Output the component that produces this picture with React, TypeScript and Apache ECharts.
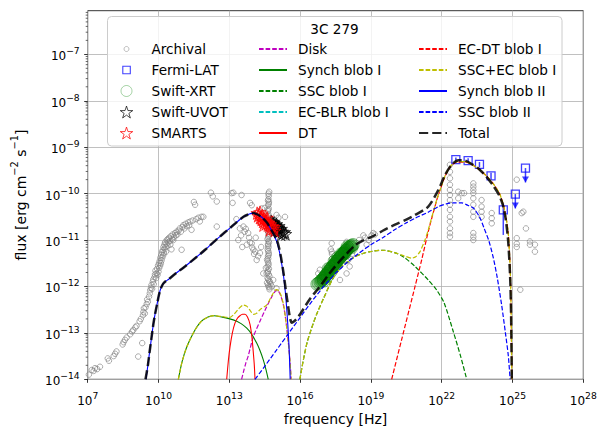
import React, { useEffect, useRef } from "react";
import * as echarts from "echarts";

// ---------- axes (log10 units) ----------
const X_MIN = 7;
const X_MAX = 28;
const Y_MIN = -14;
const Y_MAX = -6.06;
const xTickValues = [7, 10, 13, 16, 19, 22, 25, 28];
const yTickValues = [-14, -13, -12, -11, -10, -9, -8, -7];
const minorTickFractions = [0.301, 0.477, 0.602, 0.699, 0.778, 0.845, 0.903, 0.954];

// ---------- data points [log10 nu (Hz), log10 nuFnu (erg cm^-2 s^-1)] ----------
const archivalPoints = [
  [7.05, -13.9], [7.17, -13.8], [7.25, -13.82], [7.31, -13.76], [7.4, -13.78], [7.52, -13.73], [7.85, -13.55], [7.9, -13.6],
  [8.1, -13.5], [8.16, -13.45], [8.22, -13.4], [8.48, -13.25], [8.52, -13.2], [8.58, -13.15], [8.65, -13.1], [8.8, -13.03],
  [8.88, -12.97], [8.93, -12.94], [9.02, -12.88], [9.07, -12.85], [9.14, -13.51], [9.2, -12.75], [9.25, -12.7], [9.31, -13.22],
  [9.34, -12.62], [9.36, -12.55], [9.38, -12.47], [9.42, -12.58], [9.45, -12.45], [9.5, -12.38], [9.52, -12.28], [9.55, -12.33],
  [9.6, -12.22], [9.63, -12.15], [9.65, -12.08], [9.68, -12.03], [9.7, -11.97], [9.73, -12.05], [9.76, -11.9], [9.78, -11.85],
  [9.8, -11.95], [9.83, -11.8], [9.85, -11.74], [9.87, -11.66],
  [9.9, -11.82], [9.92, -11.72], [9.94, -11.62], [9.96, -11.75], [9.98, -11.55], [10.0, -11.68], [10.02, -11.5], [10.03, -11.6],
  [10.05, -11.45], [10.07, -11.55], [10.08, -11.38], [10.1, -11.5], [10.12, -11.32], [10.13, -11.44], [10.15, -11.26], [10.16, -11.38],
  [10.18, -11.22], [10.2, -11.33], [10.21, -11.15], [10.23, -11.28], [10.25, -11.1], [10.26, -11.2], [10.28, -11.05], [10.3, -11.15],
  [10.32, -11.25], [10.34, -11.08], [10.35, -11.0], [10.38, -11.12], [10.4, -10.98], [10.42, -11.05], [10.45, -10.95], [10.48, -11.02],
  [10.5, -11.1], [10.52, -10.92], [10.55, -11.2], [10.58, -10.98], [10.6, -10.88], [10.63, -11.0], [10.66, -10.93], [10.7, -10.85],
  [10.74, -10.9], [10.77, -10.82], [10.8, -10.88],
  [10.85, -10.8], [10.9, -10.75], [10.95, -10.82], [10.98, -11.21], [11.02, -10.72], [11.05, -10.68], [11.1, -10.75], [11.15, -10.65],
  [11.2, -10.7], [11.26, -10.62], [11.3, -10.68], [11.35, -10.6], [11.4, -10.78], [11.45, -10.58], [11.5, -10.18], [11.55, -10.24],
  [11.6, -10.55], [11.69, -10.52], [11.75, -10.6], [11.82, -10.5], [11.9, -10.5], [12.22, -9.98], [12.3, -10.06], [12.47, -10.17],
  [12.47, -10.71],
  [13.1, -9.99], [13.17, -9.98], [13.14, -10.2], [13.52, -10.03], [13.88, -10.2], [13.95, -10.25], [14.23, -10.39], [14.38, -10.32],
  [14.5, -10.31], [15.0, -10.46], [15.08, -10.52], [15.36, -10.5], [14.92, -10.58],
  [13.38, -11.0], [13.45, -10.75], [13.5, -10.9], [13.6, -10.71], [13.65, -10.82], [13.7, -10.76], [13.74, -11.1], [13.8, -10.85],
  [13.84, -10.95], [13.88, -11.05], [13.95, -11.07], [13.97, -11.16], [14.02, -11.21], [14.05, -11.3], [14.1, -11.25], [14.16, -11.43],
  [14.22, -11.35], [14.3, -11.28], [14.35, -11.15], [13.55, -11.15], [13.3, -10.55], [14.12, -10.95],
  [14.69, -9.96], [14.67, -10.05], [14.66, -10.12], [14.68, -10.18], [14.65, -10.25], [14.67, -10.32], [14.64, -10.38], [14.66, -10.45],
  [14.68, -10.52], [14.65, -10.6], [14.63, -10.68], [14.67, -10.75], [14.64, -10.82], [14.66, -10.9], [14.62, -10.98], [14.68, -11.05],
  [14.65, -11.12], [14.63, -11.2], [14.67, -11.28], [14.64, -11.35], [14.6, -11.42], [14.66, -11.5], [14.62, -11.58], [14.68, -11.62],
  [14.63, -11.7], [14.58, -11.72], [14.7, -11.78], [14.65, -11.85], [14.72, -11.9], [14.6, -11.92], [14.75, -11.95], [14.66, -12.0],
  [14.8, -12.0], [14.86, -11.86], [15.0, -12.04], [14.7, -12.06], [14.44, -11.72], [14.55, -11.6],
  [14.66, -10.0], [14.64, -10.15], [14.67, -10.22], [14.65, -10.35], [14.66, -10.48], [14.64, -10.56], [14.66, -10.64], [14.65, -10.72],
  [14.67, -10.86], [14.65, -10.94], [14.66, -11.02], [14.64, -11.09], [14.66, -11.16], [14.65, -11.24], [14.67, -11.32], [14.65, -11.4],
  [14.63, -11.46], [14.66, -11.54], [14.64, -11.66], [14.67, -11.74], [14.62, -11.82], [14.69, -11.88], [14.64, -11.96], [14.7, -12.02],
  [16.77, -11.72], [16.84, -11.64], [16.95, -11.8], [17.13, -11.57], [17.3, -11.2], [17.34, -11.07], [17.35, -11.3], [17.36, -11.4],
  [17.37, -11.5], [17.38, -11.6], [17.34, -11.25], [17.69, -11.86], [17.97, -11.04], [17.97, -11.15], [17.97, -11.25], [17.97, -11.35],
  [17.97, -11.45], [17.97, -11.72], [18.04, -11.43], [18.1, -11.57], [18.2, -11.3], [18.68, -10.9], [18.75, -10.95], [18.82, -11.1],
  [18.9, -11.0], [19.03, -10.9], [19.1, -10.85], [19.17, -10.88], [18.5, -11.0],
  [22.35, -9.38], [22.35, -9.53], [22.35, -9.67], [22.35, -9.81], [22.35, -9.92], [22.35, -10.03], [22.35, -10.14], [22.35, -10.24],
  [22.35, -10.35], [22.35, -10.5], [22.35, -10.6], [22.35, -10.75], [22.35, -10.85], [22.35, -10.93],
  [22.7, -9.96], [22.7, -10.1], [22.85, -9.99], [22.95, -9.99],
  [23.34, -9.78], [23.34, -9.85], [23.34, -9.92], [23.34, -9.99], [23.34, -10.1], [23.34, -10.24], [23.34, -10.39], [23.34, -10.5],
  [23.34, -10.85], [23.34, -10.93], [23.34, -11.0],
  [23.69, -10.14], [23.69, -10.28], [23.69, -10.39], [23.69, -10.5],
  [24.12, -10.42], [24.12, -10.53], [24.12, -10.64],
  [25.18, -9.7], [25.39, -10.42], [25.46, -10.39], [25.57, -10.75], [25.18, -10.96], [25.18, -11.08], [25.18, -11.15],
  [25.74, -11.03], [25.74, -11.1], [25.95, -11.1], [25.95, -11.25], [25.33, -12.07],
];

const fermiPoints = [[22.6, -9.27], [23.12, -9.29], [23.6, -9.37], [24.09, -9.62], [24.61, -10.35]];
const fermiErrLow = [-9.32, -9.34, -9.43, -9.7, -10.89];
const fermiErrHigh = [-9.22, -9.24, -9.32, -9.55, -10.2];
const fermiUpperLimits = [[25.12, -10.01], [25.55, -9.45]];
const fermiUpperLimitArrowEnds = [-10.32, -9.76];

const xrtPoints = [
  [16.72, -11.95], [16.78, -11.93], [16.85, -11.9], [16.9, -11.88], [16.93, -11.86], [16.97, -11.84], [17.0, -11.82], [17.04, -11.8],
  [17.07, -11.77], [17.1, -11.76], [17.13, -11.73], [17.17, -11.72], [17.2, -11.68], [17.24, -11.67], [17.27, -11.64], [17.3, -11.62],
  [17.34, -11.6], [17.37, -11.57], [17.4, -11.56], [17.44, -11.53], [17.47, -11.51], [17.5, -11.5], [17.54, -11.47], [17.57, -11.45],
  [17.6, -11.43], [17.64, -11.41], [17.67, -11.39], [17.7, -11.37], [17.74, -11.35], [17.77, -11.33], [17.8, -11.31], [17.84, -11.29],
  [17.87, -11.27], [17.9, -11.25], [17.94, -11.23], [17.97, -11.21], [18.0, -11.19], [18.05, -11.17], [18.1, -11.15], [18.15, -11.13],
  [18.2, -11.12], [18.24, -11.1], [17.0, -11.88], [17.2, -11.62], [17.5, -11.54], [17.6, -11.38], [17.9, -11.29], [18.0, -11.15],
  [17.3, -11.68], [17.45, -11.46], [17.15, -11.78], [17.75, -11.3], [18.18, -11.16],
];

const uvotPoints = [
  [14.78, -10.6], [14.83, -10.62], [14.86, -10.65], [14.9, -10.63], [14.93, -10.68], [14.97, -10.7], [15.0, -10.66], [15.03, -10.72],
  [15.06, -10.74], [15.1, -10.7], [15.13, -10.77], [15.16, -10.8], [15.2, -10.76], [15.24, -10.82], [15.28, -10.85], [15.33, -10.83],
  [15.38, -10.87], [14.95, -10.78], [15.08, -10.82], [15.2, -10.88],
];

const smartsPoints = [
  [14.18, -10.42], [14.22, -10.48], [14.26, -10.45], [14.3, -10.52], [14.34, -10.5], [14.37, -10.56], [14.4, -10.47], [14.43, -10.6],
  [14.46, -10.55], [14.5, -10.62], [14.53, -10.58], [14.56, -10.65], [14.6, -10.6], [14.63, -10.68], [14.66, -10.63], [14.7, -10.7],
  [14.74, -10.66], [14.78, -10.73], [14.82, -10.7], [14.86, -10.76], [14.9, -10.72], [14.3, -10.4], [14.45, -10.68], [14.6, -10.52],
  [14.72, -10.78], [14.92, -10.8],
];

// ---------- model curves ----------
const diskCurve = [
  [13.52, -14], [13.62, -13.8], [13.7, -13.65], [13.8, -13.5], [14.02, -13.08], [14.3, -12.75], [14.58, -12.44], [14.8, -12.22],
  [14.92, -12.12], [15.0, -12.08], [15.08, -12.1], [15.18, -12.2], [15.3, -12.42], [15.4, -12.75], [15.5, -13.2], [15.57, -13.6], [15.62, -14],
];
const synchICurve = [
  [10.84, -14], [11.0, -13.62], [11.2, -13.3], [11.5, -12.98], [11.8, -12.76], [12.1, -12.66], [12.35, -12.63], [12.7, -12.66],
  [13.17, -12.72], [13.5, -12.8], [13.74, -12.9], [13.95, -13.03], [14.16, -13.22], [14.3, -13.38], [14.44, -13.58], [14.56, -13.8], [14.65, -14],
];
const sscICurve = [
  [15.99, -14], [16.15, -13.55], [16.3, -13.2], [16.5, -12.88], [16.7, -12.6], [17.0, -12.25], [17.4, -11.82], [17.8, -11.56],
  [18.26, -11.38], [18.6, -11.3], [18.96, -11.25], [19.5, -11.22], [20.0, -11.27], [20.4, -11.37], [20.87, -11.57], [21.43, -11.86],
  [21.79, -12.08], [22.1, -12.35], [22.49, -12.97], [22.8, -13.5], [23.06, -14],
];
const ecBlrICurve: number[][] = [];
const dtCurve = [
  [12.89, -14], [12.96, -13.6], [13.03, -13.3], [13.13, -13.0], [13.24, -12.79], [13.35, -12.68], [13.45, -12.63], [13.56, -12.6],
  [13.66, -12.6], [13.77, -12.66], [13.88, -12.82], [13.96, -13.1], [14.02, -13.44], [14.06, -13.7], [14.09, -14],
];
const ecDtICurve = [
  [19.88, -14], [20.3, -13.15], [20.87, -12.0], [21.15, -11.43], [21.43, -10.82], [21.79, -10.14], [22.0, -9.82], [22.14, -9.63],
  [22.35, -9.43], [22.64, -9.32], [23.0, -9.32], [23.3, -9.38], [23.63, -9.5], [23.9, -9.62], [24.19, -9.79], [24.45, -10.0],
  [24.6, -10.22], [24.72, -10.5], [24.82, -10.85], [24.9, -11.6], [24.94, -12.5], [24.97, -14],
];
const sscEcILowCurve = [
  [10.84, -14], [11.0, -13.62], [11.2, -13.3], [11.5, -12.98], [11.8, -12.76], [12.1, -12.66], [12.35, -12.63], [12.7, -12.65],
  [13.0, -12.67], [13.2, -12.6], [13.4, -12.48], [13.6, -12.4], [13.75, -12.43], [13.9, -12.53], [14.02, -12.6], [14.15, -12.58],
  [14.3, -12.5], [14.58, -12.4], [14.8, -12.2], [14.92, -12.1], [15.0, -12.07], [15.1, -12.1], [15.2, -12.2], [15.3, -12.4],
  [15.4, -12.75], [15.5, -13.2], [15.57, -13.6], [15.62, -14],
];
const sscEcIHighCurve = [
  [15.99, -14], [16.15, -13.55], [16.3, -13.2], [16.5, -12.88], [16.7, -12.6], [17.0, -12.25], [17.4, -11.82], [17.8, -11.56],
  [18.26, -11.38], [18.6, -11.3], [18.96, -11.25], [19.5, -11.22], [20.0, -11.27], [20.4, -11.34], [20.73, -11.39], [20.9, -11.36],
  [21.08, -11.25], [21.29, -11.0], [21.43, -10.78], [21.79, -10.13], [22.0, -9.82], [22.14, -9.62], [22.35, -9.42], [22.64, -9.31],
  [23.0, -9.31], [23.3, -9.38], [23.63, -9.5], [23.9, -9.62], [24.19, -9.79], [24.45, -10.0], [24.6, -10.22], [24.72, -10.5],
  [24.82, -10.85], [24.9, -11.6], [24.94, -12.5], [24.97, -14],
];
const synchIICurve = [
  [9.47, -14], [9.55, -13.7], [9.62, -13.42], [9.7, -13.12], [9.78, -12.82], [9.86, -12.58], [9.94, -12.38], [10.02, -12.18],
  [10.1, -12.04], [10.2, -11.94], [10.3, -11.89], [10.42, -11.85], [10.7, -11.73], [11.12, -11.57], [11.6, -11.37], [12.0, -11.2],
  [12.5, -10.97], [13.1, -10.71], [13.6, -10.5], [13.85, -10.44], [14.02, -10.42], [14.2, -10.45], [14.4, -10.52], [14.6, -10.63],
  [14.8, -10.8], [15.0, -11.02], [15.1, -11.2], [15.2, -11.45], [15.3, -11.78], [15.38, -12.15], [15.45, -12.6], [15.5, -13.0],
  [15.54, -13.4], [15.58, -14],
];
const sscIICurve = [
  [14.09, -14], [14.5, -13.72], [15.0, -13.37], [15.5, -13.02], [16.0, -12.67], [16.5, -12.32], [17.0, -12.0], [17.5, -11.72],
  [18.0, -11.48], [18.5, -11.28], [19.0, -11.1], [19.5, -10.95], [20.0, -10.78], [20.5, -10.63], [20.87, -10.53], [21.43, -10.4],
  [21.86, -10.28], [22.2, -10.22], [22.5, -10.2], [22.85, -10.2], [23.1, -10.25], [23.34, -10.31], [23.6, -10.5], [23.8, -10.75],
  [24.0, -11.02], [24.19, -11.39], [24.35, -11.8], [24.54, -12.4], [24.7, -13.0], [24.82, -13.48], [24.9, -14],
];
const totalCurve = [
  [9.45, -14], [9.55, -13.7], [9.62, -13.42], [9.7, -13.12], [9.78, -12.82], [9.86, -12.58], [9.94, -12.38], [10.02, -12.18],
  [10.1, -12.04], [10.2, -11.94], [10.3, -11.89], [10.42, -11.85], [10.7, -11.73], [11.12, -11.57], [11.6, -11.37], [12.0, -11.2],
  [12.5, -10.97], [13.1, -10.71], [13.6, -10.5], [13.85, -10.44], [14.02, -10.42], [14.2, -10.45], [14.4, -10.52], [14.6, -10.63],
  [14.8, -10.8], [15.0, -10.98], [15.1, -11.15], [15.2, -11.4], [15.3, -11.72], [15.4, -12.1], [15.5, -12.45], [15.58, -12.7],
  [15.65, -12.78], [15.75, -12.75], [15.85, -12.7], [16.0, -12.6], [16.4, -12.28], [16.84, -12.0], [17.2, -11.75], [17.6, -11.5],
  [18.0, -11.28], [18.33, -11.11], [18.7, -11.0], [19.0, -10.94], [19.5, -10.8], [20.02, -10.67], [20.5, -10.56], [20.87, -10.46],
  [21.43, -10.28], [21.86, -9.92], [22.14, -9.6], [22.42, -9.38], [22.7, -9.28], [22.92, -9.28], [23.2, -9.34], [23.6, -9.48],
  [23.9, -9.64], [24.2, -9.84], [24.45, -10.05], [24.6, -10.26], [24.72, -10.58], [24.82, -11.05], [24.9, -11.8], [24.94, -12.6],
  [24.97, -14],
];

// ---------- styling ----------
const FONT = "DejaVu Sans";
const STAR =
  "path://M50,0 L61.2,34.5 L97.6,34.5 L68.2,55.9 L79.4,90.5 L50,69.1 L20.6,90.5 L31.8,55.9 L2.4,34.5 L38.8,34.5 Z";
const DASH_THIN = [4.6, 2.0];
const DASH_THICK = [9.2, 4.0];

const legendRowY = [49, 70, 91, 112, 133];

export default function App() {
  const ref = useRef<HTMLDivElement>(null);
  useEffect(() => {
    document.body.style.margin = "0";
    const chart = echarts.init(ref.current!, null, { renderer: "svg" });

    const lineSeries = (name: string, data: number[][], color: string, dashed: boolean, width = 1.2) => ({
      name,
      type: "line",
      data,
      showSymbol: false,
      symbol: "none",
      smooth: 0.25,
      silent: true,
      lineStyle: { color, width, type: dashed ? DASH_THIN : "solid" },
      itemStyle: { color },
    });

    const scatter = (name: string, data: number[][], symbol: string, size: number, color: string, opacity: number, bw: number, fill = "rgba(0,0,0,0)") => ({
      name,
      type: "scatter",
      data,
      symbol,
      symbolSize: size,
      silent: true,
      itemStyle: { color: fill, borderColor: color, borderWidth: bw, opacity },
    });

    const errData = fermiPoints
      .map((p, i) => [p[0], fermiErrLow[i], fermiErrHigh[i], 0])
      .concat(fermiUpperLimits.map((p, i) => [p[0], fermiUpperLimitArrowEnds[i], p[1], 1]));

    const minorTickData: number[][] = [];
    yTickValues.forEach((d) =>
      minorTickFractions.forEach((f) => {
        if (d + f <= Y_MAX) minorTickData.push([X_MIN, d + f]);
      })
    );

    const expRich = {
      b: { fontFamily: FONT, fontSize: 12, lineHeight: 16, verticalAlign: "bottom", color: "#000" },
      s: { fontFamily: FONT, fontSize: 9.2, lineHeight: 7, verticalAlign: "top", color: "#000" },
    };

    const markerLegends = [
      { name: "Archival", size: 5, color: "gray", opacity: 0.5, bw: 1, fill: "rgba(0,0,0,0)" },
      { name: "Fermi-LAT", size: 7.5, color: "#0000ff", opacity: 0.75, bw: 1.1, fill: "rgba(0,0,0,0)" },
      { name: "Swift-XRT", size: 11, color: "#008000", opacity: 0.35, bw: 1, fill: "rgba(0,0,0,0)" },
      { name: "Swift-UVOT", size: 12.5, color: "#000000", opacity: 0.7, bw: 1, fill: "rgba(0,0,0,0)" },
      { name: "SMARTS", size: 12.5, color: "#ff0000", opacity: 0.75, bw: 1, fill: "rgba(0,0,0,0)" },
    ].map((m, i) => ({
      data: [m.name],
      orient: "vertical",
      left: 126 - m.size / 2,
      top: legendRowY[i] - 7,
      padding: 0,
      itemWidth: m.size,
      itemHeight: m.size,
      selectedMode: false,
      z: 6,
      itemStyle: { color: m.fill, borderColor: m.color, borderWidth: m.bw, opacity: m.opacity },
      textStyle: {
        fontFamily: FONT,
        fontSize: 13.6,
        color: "#000",
        lineHeight: 14,
        padding: [0, 0, 0, 20 - m.size / 2],
      },
    }));

    const lineLegend = (names: string[], left: number) => ({
      data: names,
      orient: "vertical",
      left,
      top: legendRowY[0] - 7,
      padding: 0,
      itemWidth: 28,
      itemHeight: 14,
      itemGap: 7,
      selectedMode: false,
      z: 6,
      itemStyle: { color: "rgba(0,0,0,0)", borderColor: "rgba(0,0,0,0)", borderWidth: 0, opacity: 0 },
      textStyle: { fontFamily: FONT, fontSize: 13.6, color: "#000", lineHeight: 14, padding: [0, 0, 0, 6] },
    });

    const option: any = {
      animation: false,
      backgroundColor: "#fff",
      textStyle: { fontFamily: FONT },
      grid: {
        left: 87.7,
        right: 24.7,
        top: 10.7,
        bottom: 57.7,
        show: true,
        borderColor: "#000",
        borderWidth: 0.8,
        backgroundColor: "rgba(0,0,0,0)",
        containLabel: false,
        outerBoundsMode: "none",
      },
      xAxis: {
        type: "value",
        min: X_MIN,
        max: X_MAX,
        interval: 1,
        axisLine: { show: false },
        axisTick: { show: true, length: 3.5, customValues: xTickValues, lineStyle: { color: "#000", width: 0.8 } },
        axisLabel: {
          customValues: xTickValues,
          margin: 12,
          formatter: (v: number) => `{b|10}{s|${Math.round(v)}}`,
          rich: expRich,
        },
        splitLine: { show: true, lineStyle: { color: "#b0b0b0", width: 0.8 } },
        name: "frequency [Hz]",
        nameLocation: "middle",
        nameGap: 31,
        nameTextStyle: { fontFamily: FONT, fontSize: 14, color: "#000" },
      },
      yAxis: {
        type: "value",
        min: Y_MIN,
        max: Y_MAX,
        interval: 1,
        axisLine: { show: false },
        axisTick: { show: true, length: 3.5, customValues: yTickValues, lineStyle: { color: "#000", width: 0.8 } },
        axisLabel: {
          customValues: yTickValues,
          margin: 8,
          formatter: (v: number) => `{b|10}{s|\u2212${Math.abs(Math.round(v))}}`,
          rich: expRich,
        },
        splitLine: { show: true, lineStyle: { color: "#b0b0b0", width: 0.8 } },
        name: "{n|flux [erg cm}{s|\u22122}{n| s}{s|\u22121}{n|]}",
        nameLocation: "middle",
        nameRotate: 90,
        nameGap: 60,
        nameTextStyle: {
          fontFamily: FONT,
          fontSize: 14,
          color: "#000",
          rich: {
            n: { fontFamily: FONT, fontSize: 14, lineHeight: 18, verticalAlign: "bottom", color: "#000" },
            s: { fontFamily: FONT, fontSize: 9.8, lineHeight: 9, verticalAlign: "top", color: "#000" },
          },
        },
      },
      legend: [
        ...markerLegends,
        lineLegend(["Disk", "Synch blob I", "SSC blob I", "EC-BLR blob I", "DT"], 258),
        lineLegend(["EC-DT blob I", "SSC+EC blob I", "Synch blob II", "SSC blob II", "Total"], 418),
      ],
      graphic: [
        {
          type: "rect",
          z: 5,
          shape: { x: 107.5, y: 16.5, width: 454.5, height: 129.5, r: 4 },
          style: { fill: "rgba(255,255,255,0.8)", stroke: "#cccccc", lineWidth: 1 },
          silent: true,
        },
        {
          type: "text",
          z: 6,
          x: 334.5,
          y: 29,
          style: { text: "3C 279", fontFamily: FONT, fontSize: 13.6, fill: "#000", align: "center", verticalAlign: "middle" },
          silent: true,
        },
      ],
      series: [
        scatter("Archival", archivalPoints, "circle", 5.5, "gray", 0.65, 1),
        lineSeries("Disk", diskCurve, "#bf00bf", true),
        lineSeries("Synch blob I", synchICurve, "#008000", false, 1.1),
        lineSeries("SSC blob I", sscICurve, "#008000", true),
        lineSeries("EC-BLR blob I", ecBlrICurve, "#00bfbf", true),
        lineSeries("DT", dtCurve, "#ff0000", false, 1.1),
        lineSeries("EC-DT blob I", ecDtICurve, "#ff0000", true),
        lineSeries("SSC+EC blob I", sscEcILowCurve, "#bfbf00", true),
        lineSeries("SSC+EC blob I", sscEcIHighCurve, "#bfbf00", true),
        lineSeries("Synch blob II", synchIICurve, "#0000ff", false, 1.1),
        lineSeries("SSC blob II", sscIICurve, "#0000ff", true),
        scatter("Swift-XRT", xrtPoints, "circle", 12.5, "#008000", 0.45, 1, "rgba(0,128,0,0.45)"),
        scatter("Swift-UVOT", uvotPoints, STAR, 12.5, "#000000", 0.7, 1),
        scatter("SMARTS", smartsPoints, STAR, 12.5, "#ff0000", 0.75, 1),
        scatter("Fermi-LAT", fermiPoints.concat(fermiUpperLimits), "rect", 8, "#0000ff", 0.75, 1.3),
        {
          type: "custom",
          name: "fermi-errors",
          silent: true,
          clip: false,
          data: errData,
          dimensions: ["x", "lo", "hi", "ul"],
          encode: { x: 0, y: [1, 2] },
          renderItem: (params: any, api: any) => {
            const x = api.value(0);
            const a = api.coord([x, api.value(2)]);
            const b = api.coord([x, api.value(1)]);
            const children: any[] = [
              { type: "line", shape: { x1: a[0], y1: a[1], x2: b[0], y2: b[1] }, style: { stroke: "#0000ff", lineWidth: 1.5, opacity: 0.75 } },
            ];
            if (api.value(3)) {
              children.push({
                type: "polygon",
                shape: { points: [[b[0] - 3.5, b[1] - 6], [b[0] + 3.5, b[1] - 6], [b[0], b[1]]] },
                style: { fill: "#0000ff", opacity: 0.75 },
              });
            }
            return { type: "group", children };
          },
        },
        {
          name: "Total",
          type: "line",
          data: totalCurve,
          showSymbol: false,
          symbol: "none",
          smooth: 0.25,
          silent: true,
          z: 3,
          lineStyle: { color: "#000", width: 2.5, type: DASH_THICK, opacity: 0.85 },
          itemStyle: { color: "#000" },
        },
        {
          type: "custom",
          name: "minor-ticks",
          silent: true,
          clip: false,
          data: minorTickData,
          encode: { x: 0, y: 1 },
          renderItem: (params: any, api: any) => {
            const p = api.coord([api.value(0), api.value(1)]);
            return { type: "line", shape: { x1: p[0] - 2, y1: p[1], x2: p[0], y2: p[1] }, style: { stroke: "#000", lineWidth: 0.6 } };
          },
        },
      ],
    };
    chart.setOption(option);
    return () => chart.dispose();
  }, []);
  return <div ref={ref} style={{ width: 608, height: 437 }} />;
}
